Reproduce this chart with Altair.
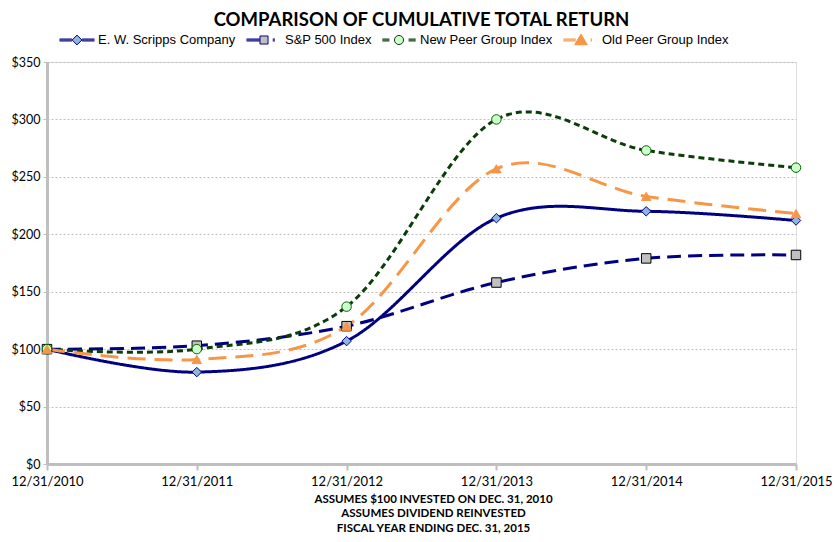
import altair as alt
import pandas as pd

dates = ["12/31/2010", "12/31/2011", "12/31/2012", "12/31/2013", "12/31/2014", "12/31/2015"]
series_names = ["E. W. Scripps Company", "S&P 500 Index", "New Peer Group Index", "Old Peer Group Index"]
scripps = [100, 80, 107, 214, 220, 212]
sp500 = [100, 103, 120, 158, 179, 182]
new_peer = [100, 100, 137, 300, 273, 258]
old_peer = [100, 91, 120, 257, 233, 218]

line_colors = ["#000080", "#000080", "#0B3D0B", "#F79646"]
dashes = [[1, 0], [14, 7], [6, 4], [18, 9]]
fill_colors = ["#8EB4E3", "#C0C0C0", "#CCFFCC", "#F79646"]
stroke_colors = ["#000080", "#000000", "#006600", "#F79646"]
legend_stroke_colors = ["#000080", "#000080", "#0B3D0B", "#F79646"]
point_shapes = ["diamond", "square", "circle", "triangle-up"]

# legend symbols: line stub (3 parallel 1px strokes) + marker, in the [-1, 1] unit box
def stub(segments):
    out = ""
    for yy in (-0.057, 0, 0.057):
        for a, b in segments:
            out += f"M{a},{yy}H{b}"
    return out

legend_paths = [
    stub([(-1, -0.29), (0.29, 1)]) + "M0,-0.28L0.28,0L0,0.28L-0.28,0Z",
    stub([(-1, -0.24), (0.5, 0.62)]) + "M-0.23,-0.23H0.23V0.23H-0.23Z",
    stub([(-0.95, -0.55), (0.55, 0.95)]) + "M0.26,0A0.26,0.26 0 1 1 -0.26,0A0.26,0.26 0 1 1 0.26,0Z",
    stub([(-1, -0.3), (0.55, 0.63)]) + "M0,-0.34L0.36,0.27L-0.36,0.27Z",
]

rows = []
for name, vals in zip(series_names, [scripps, sp500, new_peer, old_peer]):
    for d, v in zip(dates, vals):
        rows.append({"date": d, "series": name, "series_m": name, "value": v})
df = pd.DataFrame(rows)

x = alt.X("date:O", sort=dates, scale=alt.Scale(type="point", padding=0),
          axis=alt.Axis(title=["ASSUMES $100 INVESTED ON DEC. 31, 2010",
                               "ASSUMES DIVIDEND REINVESTED",
                               "FISCAL YEAR ENDING DEC. 31, 2015"],
                        labelAngle=0, labelFont="Lato", labelFontSize=13, labelColor="#000000",
                        labelPadding=5, tickSize=6, tickColor="#BFBFBF", tickWidth=2,
                        domainColor="#BFBFBF", domainWidth=3,
                        titleFont="Lato", titleFontWeight="bold", titleFontSize=11.5,
                        titleLineHeight=14.5, titlePadding=5, titleColor="#000000",
                        titleX=386, titleAlign="center"))
y = alt.Y("value:Q", scale=alt.Scale(domain=[0, 350], nice=False),
          axis=alt.Axis(title=None, values=[0, 50, 100, 150, 200, 250, 300, 350],
                        labelExpr="'$' + datum.value", labelFont="Lato", labelFontSize=12.5,
                        labelColor="#000000", labelPadding=3, tickSize=4, tickColor="#BFBFBF",
                        domainColor="#BFBFBF", domainWidth=3,
                        grid=True, gridDash=[2, 2], gridColor="#BFBFBF", gridWidth=1))

lines = alt.Chart(df).mark_line(interpolate="cardinal", tension=0, strokeWidth=3).encode(
    x=x, y=y,
    color=alt.Color("series:N", sort=series_names, scale=alt.Scale(range=line_colors), legend=None),
    strokeDash=alt.StrokeDash("series:N", sort=series_names, scale=alt.Scale(range=dashes), legend=None),
)

points = alt.Chart(df).mark_point(filled=True, opacity=1, size=90, strokeWidth=1).encode(
    x=x, y=y,
    shape=alt.Shape("series_m:N", sort=series_names, scale=alt.Scale(range=point_shapes), legend=None),
    fill=alt.Fill("series_m:N", sort=series_names, scale=alt.Scale(range=fill_colors), legend=None),
    stroke=alt.Stroke("series_m:N", sort=series_names, scale=alt.Scale(range=stroke_colors), legend=None),
)

leg = dict(orient="none", legendX=12, legendY=-40, direction="horizontal", columns=4, title=None,
           symbolSize=1225, symbolStrokeWidth=1, symbolOpacity=1,
           labelFont="Liberation Sans", labelFontSize=13, labelColor="#000000", labelOffset=3,
           columnPadding=8, padding=0)

legend_layer = alt.Chart(df).transform_filter("false").mark_point(filled=True, opacity=1).encode(
    x=x, y=y,
    shape=alt.Shape("series:N", scale=alt.Scale(domain=series_names, range=legend_paths),
                    legend=alt.Legend(**leg)),
    fill=alt.Fill("series:N", scale=alt.Scale(domain=series_names, range=fill_colors),
                  legend=alt.Legend(**leg)),
    stroke=alt.Stroke("series:N", scale=alt.Scale(domain=series_names, range=legend_stroke_colors),
                      legend=alt.Legend(**leg)),
)

chart = alt.layer(lines, points, legend_layer).resolve_scale(
    shape="independent", fill="independent", stroke="independent"
).properties(
    width=749, height=402,
    autosize=alt.AutoSizeParams(type="none"),
    padding={"left": 39, "top": 54, "right": 36, "bottom": 70},
    title=alt.TitleParams("COMPARISON OF CUMULATIVE TOTAL RETURN", font="Lato",
                          fontSize=18.5, fontWeight="bold", color="#000000", anchor="middle",
                          offset=-7),
).configure_view(stroke=None).configure(background="#FFFFFF")

chart.save("out.html", embed_options={"renderer": "svg", "actions": False})
